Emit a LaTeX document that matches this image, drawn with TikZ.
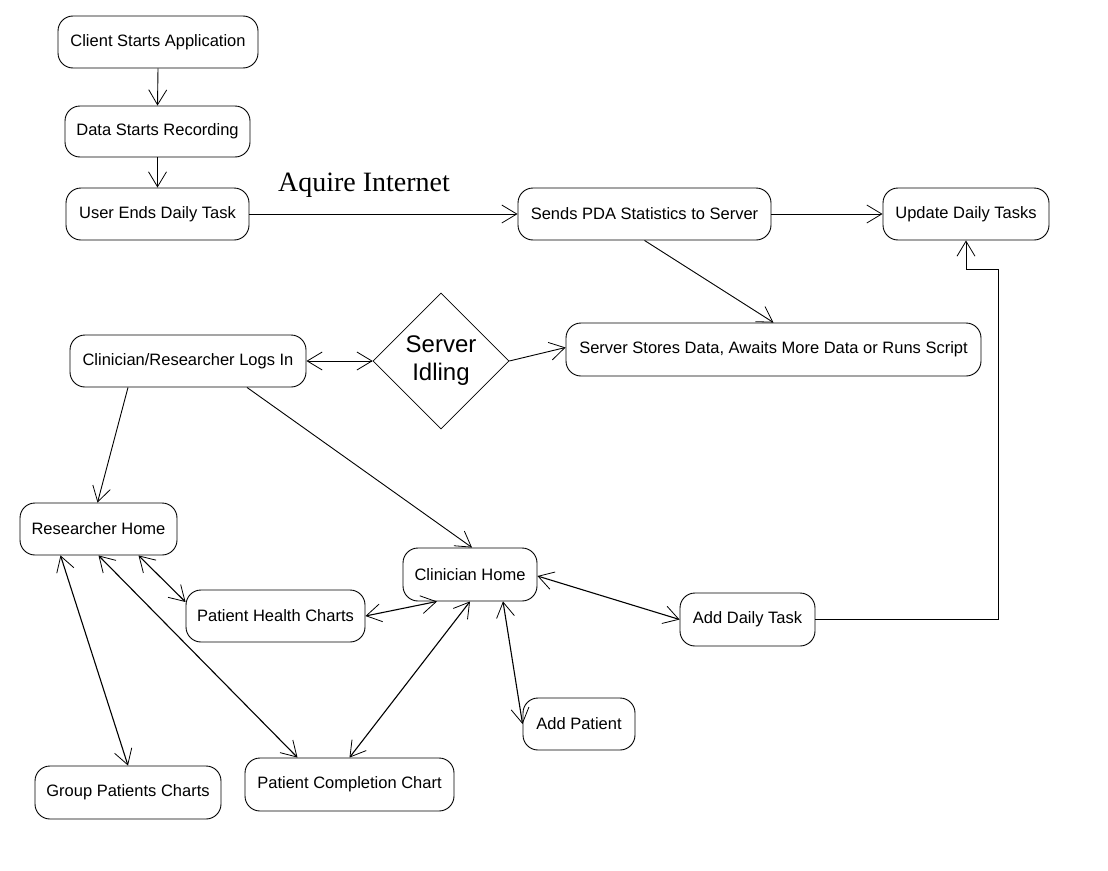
\documentclass[tikz,border=0pt]{standalone}
\usepackage{fontspec}
\setmainfont{Liberation Sans}
\newfontfamily\timesfont{Liberation Serif}
\usetikzlibrary{arrows.meta,shapes.geometric,calc}
\begin{document}
\begin{tikzpicture}[x=1pt,y=-1pt,
  box/.style={draw, rounded corners=15pt, line width=0.9pt, inner sep=0pt, font=\fontsize{16.5}{19}\selectfont},
  conn/.style={line width=0.9pt, -{Straight Barb[length=15pt,width=18pt,line width=0.8pt]}},
  biconn/.style={line width=1.1pt, {Straight Barb[length=15pt,width=18pt,line width=0.8pt]}-{Straight Barb[length=15pt,width=18pt,line width=0.8pt]}},
  plain/.style={line width=0.9pt}]
\useasboundingbox (0,0) rectangle (1108,870);
\fill[white] (0,0) rectangle (1108,870);
% nodes
\node[box, minimum width=200pt, minimum height=52pt] (client) at (158,42) {Client Starts Application};
\node[box, minimum width=185pt, minimum height=51pt] (data) at (157.5,131.5) {Data Starts Recording};
\node[box, minimum width=183pt, minimum height=52pt] (user) at (157.5,214) {User Ends Daily Task};
\node[box, minimum width=253pt, minimum height=52pt] (sends) at (644.5,214) {Sends PDA Statistics to Server};
\node[box, minimum width=166pt, minimum height=52pt] (update) at (966,214) {Update Daily Tasks};
\node[box, minimum width=415pt, minimum height=53pt] (stores) at (773.5,349.5) {Server Stores Data, Awaits More Data or Runs Script};
\node[box, minimum width=236pt, minimum height=52pt] (logs) at (188,361) {Clinician/Researcher Logs In};
\node[draw, diamond, line width=0.6pt, inner sep=0pt, minimum width=136pt, minimum height=136pt, align=center, font=\fontsize{24}{28}\selectfont] (idle) at (441,361) {Server\\Idling};
\node[box, minimum width=157pt, minimum height=52pt] (rh) at (98.5,529) {Researcher Home};
\node[box, minimum width=179pt, minimum height=52pt] (phc) at (275.5,616) {Patient Health Charts};
\node[box, minimum width=134pt, minimum height=53pt] (ch) at (470,574.5) {Clinician Home};
\node[box, minimum width=135pt, minimum height=53pt] (adt) at (747.5,619.5) {Add Daily Task};
\node[box, minimum width=112pt, minimum height=52pt] (ap) at (579,724) {Add Patient};
\node[box, minimum width=186pt, minimum height=53pt] (gpc) at (128,792.5) {Group Patients Charts};
\node[box, minimum width=209pt, minimum height=53pt] (pcc) at (349.5,784.5) {Patient Completion Chart};
\node[font=\timesfont\fontsize{28}{32}\selectfont, inner sep=0pt] (aq) at (364,185) {Aquire Internet};
\coordinate (bend) at (998,269);
% connectors
\draw[conn] (client.south) -- (data.north);
\draw[conn] (data.south) -- (user.north);
\draw[conn] (user.east) -- (sends.west);
\draw[conn] (sends.east) -- (update.west);
\draw[conn] (sends.south) -- (stores.north);
\draw[conn, {Straight Barb[length=15pt,width=18pt,line width=0.8pt]}-{Straight Barb[length=15pt,width=18pt,line width=0.8pt]}] (logs.east) -- (idle.west);
\draw[conn] (idle.east) -- ([yshift=2pt]stores.west);
\draw[conn] ([xshift=-60pt]logs.south) -- ([xshift=-1pt]rh.north);
\draw[conn] ([xshift=59pt]logs.south) -- ([xshift=2pt]ch.north);
\draw[biconn] ([xshift=40pt]rh.south) -- ([yshift=14pt]phc.west);
\draw[biconn] ([xshift=-38pt]rh.south) -- (gpc.north);
\draw[biconn] (rh.south) -- ([xshift=-52pt]pcc.north);
\draw[biconn] ([xshift=-33pt]ch.south) -- (phc.east);
\draw[biconn] (ch.south) -- (pcc.north);
\draw[biconn] ([xshift=33pt]ch.south) -- (ap.west);
\draw[biconn] ([yshift=-1.5pt]ch.east) -- (adt.west);
\draw[conn] (adt.east) -| (bend) -| (update.south);
\end{tikzpicture}
\end{document}
